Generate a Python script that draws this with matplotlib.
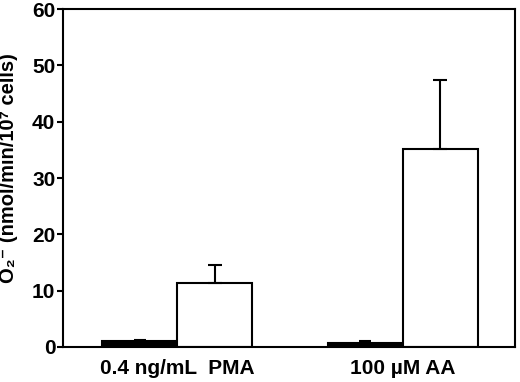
import numpy as np
import matplotlib.pyplot as plt

plt.rcParams['font.family'] = ['Liberation Sans', 'DejaVu Sans']
plt.rcParams['font.weight'] = 'bold'

groups = ["0.4 ng/mL  PMA", "100 \u00b5M AA"]
black_vals = [1.0, 0.6]
black_err = [0.3, 0.5]
white_vals = [11.3, 35.2]
white_err = [3.2, 12.2]

x = np.array([0, 3])
w = 1.0

fig = plt.figure(figsize=(5.2, 3.82), dpi=100)
ax = fig.add_axes([0.121, 0.092, 0.869, 0.884])

ax.bar(x - w / 2, black_vals, w, color="black", edgecolor="black", linewidth=1.5,
       yerr=[np.zeros(2), black_err], error_kw=dict(ecolor="black", elinewidth=1.5, capsize=4, capthick=1.5))
ax.bar(x + w / 2, white_vals, w, color="white", edgecolor="black", linewidth=1.5,
       yerr=[np.zeros(2), white_err], error_kw=dict(ecolor="black", elinewidth=1.5, capsize=5, capthick=1.5))

ax.set_xlim(-1.52, 4.49)
ax.set_ylim(0, 60)
ax.set_yticks([0, 10, 20, 30, 40, 50, 60])
ax.set_xticks(x)
ax.set_xticklabels(groups)
ax.tick_params(axis="x", length=0, pad=9, labelsize=15)
ax.tick_params(axis="y", length=4.5, width=1.5, labelsize=15, pad=1)
for s in ax.spines.values():
    s.set_linewidth(1.5)

ax.set_ylabel("O\u2082\u207b (nmol/min/10\u2077 cells)", fontsize=14.5, fontweight="bold")
ax.yaxis.set_label_coords(-0.1, 0.53)

fig.savefig("out.png", dpi=100)
